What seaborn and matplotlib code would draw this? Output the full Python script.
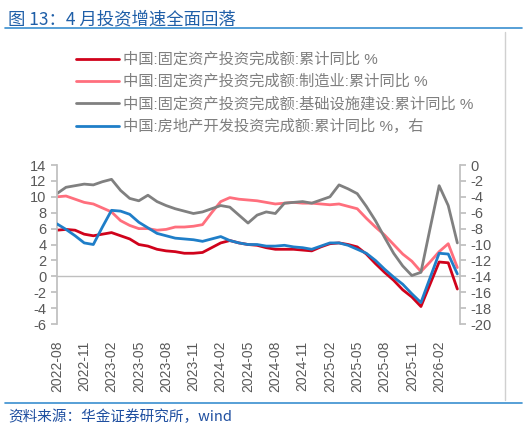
import matplotlib
matplotlib.use("Agg")
import matplotlib.pyplot as plt
import seaborn as sns
import pandas as pd
import numpy as np

sns.set_theme(style="white")
plt.rcParams['font.family'] = ['Liberation Sans', 'Noto Sans CJK SC', 'DejaVu Sans']
plt.rcParams['axes.unicode_minus'] = False

months = pd.period_range("2022-08", "2026-04", freq="M").strftime("%Y-%m").tolist()
fai = [5.8,5.9,5.8,5.3,5.1,5.3,5.5,5.1,4.7,4.0,3.8,3.4,3.2,3.1,2.9,2.9,3.0,3.6,4.2,4.5,4.2,4.0,3.9,3.6,3.4,3.4,3.4,3.3,3.2,3.7,4.1,4.2,4.0,3.7,2.8,1.6,0.5,-0.5,-1.7,-2.6,-3.8,-1.0,1.8,1.7,-1.6]
mfg = [10.0,10.1,9.7,9.3,9.1,8.6,8.1,7.0,6.4,6.0,6.0,5.8,5.9,6.2,6.2,6.3,6.5,8.0,9.4,9.9,9.7,9.6,9.5,9.3,9.1,9.2,9.3,9.2,9.2,9.1,9.0,9.1,8.8,8.5,7.3,6.2,5.2,4.0,2.8,1.9,0.6,1.8,3.1,4.1,1.1]
infra = [10.4,11.2,11.4,11.6,11.5,11.9,12.2,10.8,9.8,9.5,10.2,9.4,8.9,8.5,8.2,7.9,8.1,8.5,8.9,8.7,7.7,6.7,7.7,8.1,7.9,9.2,9.3,9.4,9.2,9.6,10.0,11.5,11.0,10.4,8.8,7.0,4.9,2.9,1.3,0.1,0.5,6.0,11.4,8.9,4.2]
realestate = [-7.4,-8.1,-8.9,-9.8,-10.0,-7.8,-5.7,-5.8,-6.2,-7.2,-7.9,-8.6,-8.9,-9.2,-9.3,-9.4,-9.6,-9.3,-9.0,-9.5,-9.8,-10.0,-10.0,-10.2,-10.2,-10.1,-10.3,-10.4,-10.6,-10.2,-9.8,-9.8,-10.1,-10.6,-11.1,-12.0,-13.1,-14.1,-15.0,-16.2,-17.3,-14.2,-11.1,-11.2,-13.7]
labels = ["中国:固定资产投资完成额:累计同比 %",
          "中国:固定资产投资完成额:制造业:累计同比 %",
          "中国:固定资产投资完成额:基础设施建设:累计同比 %",
          "中国:房地产开发投资完成额:累计同比 %，右"]
colors = ["#D0021B", "#FF6F7D", "#808080", "#1F7EC8"]

df = pd.DataFrame({"x": np.arange(len(months)), "fai": fai, "mfg": mfg, "infra": infra, "re": realestate})

fig = plt.figure(figsize=(5.27, 4.32), dpi=100)
ax = fig.add_axes([0.108, 0.25, 0.765, 0.368])
ax2 = ax.twinx()
for col, c, lab in zip(["fai", "mfg", "infra"], colors[:3], labels[:3]):
    sns.lineplot(data=df, x="x", y=col, ax=ax, color=c, lw=2, label=lab, legend=False)
sns.lineplot(data=df, x="x", y="re", ax=ax2, color=colors[3], lw=2, label=labels[3], legend=False)

ax.set_ylim(-6, 14); ax.set_yticks(range(-6, 15, 2))
ax2.set_ylim(-20, 0); ax2.set_yticks(range(-20, 1, 2))
ax.set_xlim(0, 44.3)
ax.set_xticks(range(0, len(months), 3))
ax.set_xticklabels(months[::3], rotation=90)
ax.axhline(0, color="#bfbfbf", lw=1, zorder=0)
for a in (ax, ax2):
    for s in a.spines.values():
        s.set_visible(False)
    a.set_xlabel(""); a.set_ylabel("")
ax.spines["left"].set_visible(True); ax.spines["left"].set_color("#bfbfbf")
ax2.spines["right"].set_visible(True); ax2.spines["right"].set_color("#bfbfbf")
ax.tick_params(axis="y", labelsize=10.5, colors="#595959", left=True, length=4, color="#bfbfbf")
ax2.tick_params(axis="y", labelsize=10.5, colors="#595959", right=True, length=4, color="#bfbfbf")
ax.tick_params(axis="x", labelsize=10, colors="#595959", bottom=False, pad=6)

h1, l1 = ax.get_legend_handles_labels()
h2, l2 = ax2.get_legend_handles_labels()
fig.legend(h1 + h2, l1 + l2, loc="upper left", bbox_to_anchor=(0.118, 0.91), frameon=False,
           fontsize=11, labelcolor="#7f7f7f", handlelength=2.8, handletextpad=0.3, labelspacing=0.5)

fig.text(0.015, 0.955, "图 13：4 月投资增速全面回落", fontsize=12.5, color="#1F5FA8", va="center",
         family=['Noto Sans CJK SC', 'DejaVu Sans'])
fig.add_artist(plt.Line2D([0.01, 0.99], [0.935, 0.935], color="#3A8FD0", lw=1.2))
fig.add_artist(plt.Line2D([0.01, 0.99], [0.068, 0.068], color="#3A8FD0", lw=1.2))
fig.add_artist(plt.Line2D([0.958, 0.958], [0.075, 0.925], color="#d0d0d0", lw=1))
fig.text(0.015, 0.035, "资料来源：华金证券研究所，wind", fontsize=10.5, color="#1F4FA0", style="italic",
         va="center", family=['Noto Sans CJK SC', 'DejaVu Sans'])

fig.savefig("out.png", dpi=100)
